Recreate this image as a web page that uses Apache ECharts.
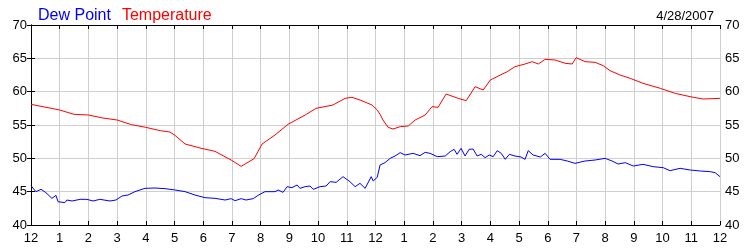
<!DOCTYPE html>
<html>
<head>
<meta charset="utf-8">
<script src="https://cdn.jsdelivr.net/npm/echarts@6/dist/echarts.min.js"></script>
<style>html,body{margin:0;padding:0;background:#fff}#c{width:750px;height:250px}</style>
</head>
<body>
<div id="c"></div>
<script>
const xTickLabels = ['12','1','2','3','4','5','6','7','8','9','10','11','12','1','2','3','4','5','6','7','8','9','10','11','12'];
const yTicks = [40, 45, 50, 55, 60, 65, 70];
const dateText = '4/28/2007';

const tempHours = [0, 1, 1.5, 2, 2.5, 3, 3.5, 4, 4.5, 4.84, 5, 5.37, 5.89, 6.41, 6.97, 7.32, 7.77, 8.05, 8.5, 8.95, 9.55, 9.93, 10.52, 10.94, 11.18, 11.46, 11.88, 12.06, 12.16, 12.26, 12.44, 12.61, 12.86, 13.14, 13.38, 13.73, 13.97, 14.18, 14.46, 14.88, 15.16, 15.47, 15.75, 16.0, 16.35, 16.59, 16.86, 17.21, 17.46, 17.67, 17.91, 18.26, 18.61, 18.85, 18.99, 19.3, 19.65, 19.93, 20.17, 20.52, 20.87, 21.32, 21.92, 22.44, 22.96, 23.41, 24];
const tempValues = [58.1, 57.25, 56.6, 56.5, 56.05, 55.75, 55.05, 54.65, 54.15, 53.95, 53.5, 52.15, 51.55, 51.05, 49.75, 48.8, 49.95, 52.15, 53.5, 55.1, 56.5, 57.5, 58.0, 59.0, 59.15, 58.75, 58.0, 57.25, 56.6, 55.75, 54.65, 54.4, 54.75, 54.85, 55.75, 56.5, 57.75, 57.65, 59.65, 59.0, 58.65, 60.75, 60.25, 61.75, 62.5, 63.0, 63.75, 64.15, 64.5, 64.15, 64.85, 64.75, 64.25, 64.15, 65.1, 64.5, 64.4, 63.9, 63.15, 62.5, 62.0, 61.25, 60.5, 59.75, 59.25, 58.9, 59.0];

const dewHours = [0, 0.17, 0.35, 0.52, 0.73, 0.87, 0.94, 1.18, 1.25, 1.43, 1.71, 1.95, 2.16, 2.4, 2.75, 2.96, 3.17, 3.38, 3.62, 3.97, 4.32, 4.67, 5.02, 5.37, 5.71, 6.06, 6.41, 6.76, 6.97, 7.11, 7.32, 7.49, 7.74, 7.91, 8.15, 8.5, 8.61, 8.78, 8.92, 9.09, 9.27, 9.37, 9.55, 9.72, 9.83, 10.07, 10.28, 10.42, 10.63, 10.87, 11.11, 11.29, 11.46, 11.64, 11.85, 11.92, 12.06, 12.16, 12.33, 12.51, 12.68, 12.86, 13.03, 13.31, 13.55, 13.73, 13.9, 14.15, 14.43, 14.6, 14.74, 14.84, 14.98, 15.12, 15.26, 15.4, 15.54, 15.68, 15.82, 15.96, 16.1, 16.24, 16.38, 16.52, 16.66, 16.86, 17.07, 17.21, 17.32, 17.49, 17.74, 17.91, 18.08, 18.43, 18.68, 18.95, 19.3, 19.65, 20.0, 20.24, 20.45, 20.7, 20.98, 21.32, 21.67, 22.02, 22.26, 22.61, 22.96, 23.31, 23.66, 23.83, 24];
const dewValues = [45.9, 45.0, 45.35, 44.85, 44.0, 44.45, 43.5, 43.35, 43.75, 43.6, 43.85, 43.85, 43.6, 43.85, 43.6, 43.75, 44.35, 44.5, 45.0, 45.5, 45.55, 45.45, 45.25, 45.0, 44.5, 44.1, 44.0, 43.75, 43.95, 43.65, 43.95, 43.75, 43.95, 44.45, 45.0, 45.0, 45.25, 44.9, 45.75, 45.6, 46.0, 45.5, 45.75, 45.85, 45.35, 45.75, 45.85, 46.5, 46.4, 47.25, 46.5, 45.75, 46.25, 45.5, 47.25, 46.6, 47.15, 49.0, 49.35, 50.0, 50.35, 50.85, 50.5, 50.75, 50.4, 50.9, 50.75, 50.25, 50.35, 51.0, 51.35, 50.6, 51.5, 50.35, 51.35, 51.4, 50.35, 50.6, 50.1, 50.5, 50.25, 51.15, 50.75, 49.85, 50.6, 50.35, 50.2, 49.85, 51.15, 50.5, 50.2, 50.75, 49.85, 49.85, 49.6, 49.25, 49.6, 49.75, 50.0, 49.6, 49.15, 49.35, 48.85, 49.1, 48.75, 48.6, 48.15, 48.5, 48.25, 48.1, 48.0, 47.85, 47.25];

const FONT = 'Liberation Sans, Arial, sans-serif';
const pair = (xs, ys) => xs.map((x, i) => [x, ys[i]]);

const chart = echarts.init(document.getElementById('c'), null, {renderer: 'canvas'});
const yBase = {
  type: 'value', min: yTicks[0], max: yTicks[yTicks.length - 1], interval: 5,
  axisLine: {show: true, lineStyle: {color: '#000', width: 1}},
  axisTick: {show: true, inside: true, length: 4, lineStyle: {color: '#000'}},
  axisLabel: {color: '#000', fontSize: 13, fontFamily: FONT, margin: 4}
};
const xBase = {
  type: 'value', min: 0, max: 24, interval: 1,
  axisLine: {show: true, lineStyle: {color: '#000', width: 1}},
  axisTick: {show: true, inside: true, length: 4, lineStyle: {color: '#000'}}
};
chart.setOption({
  animation: false,
  backgroundColor: '#fff',
  title: {
    text: dateText, right: 31, top: 5,
    textStyle: {fontSize: 13, fontWeight: 'normal', color: '#000', fontFamily: FONT}
  },
  legend: {
    left: 28, top: 3, icon: 'none', itemWidth: 0, itemGap: 6,
    textStyle: {fontSize: 16, fontFamily: FONT},
    data: [
      {name: 'Dew Point', textStyle: {color: '#0000ff'}},
      {name: 'Temperature', textStyle: {color: '#ff0000'}}
    ],
    selectedMode: false
  },
  grid: {left: 31, right: 30, top: 25, bottom: 25, containLabel: false},
  xAxis: [
    Object.assign({}, xBase, {
      position: 'bottom',
      splitLine: {show: true, lineStyle: {color: '#cfcfcf', width: 1}},
      axisLabel: {color: '#000', fontSize: 13, fontFamily: FONT, margin: 7,
        formatter: v => xTickLabels[Math.round(v)]}
    }),
    Object.assign({}, xBase, {
      position: 'top', axisLabel: {show: false}, splitLine: {show: false}
    })
  ],
  yAxis: [
    Object.assign({}, yBase, {
      position: 'left',
      splitLine: {show: true, lineStyle: {color: '#cfcfcf', width: 1}}
    }),
    Object.assign({}, yBase, {
      position: 'right', splitLine: {show: false},
      axisLabel: Object.assign({}, yBase.axisLabel, {margin: 5})
    })
  ],
  series: [
    {
      name: 'Dew Point', type: 'line', data: pair(dewHours, dewValues),
      showSymbol: false, symbol: 'none', color: '#0000ff',
      lineStyle: {color: '#0000ff', width: 1}
    },
    {
      name: 'Temperature', type: 'line', data: pair(tempHours, tempValues),
      showSymbol: false, symbol: 'none', color: '#ff0000',
      lineStyle: {color: '#ff0000', width: 1}
    }
  ]
});
</script>
</body>
</html>
